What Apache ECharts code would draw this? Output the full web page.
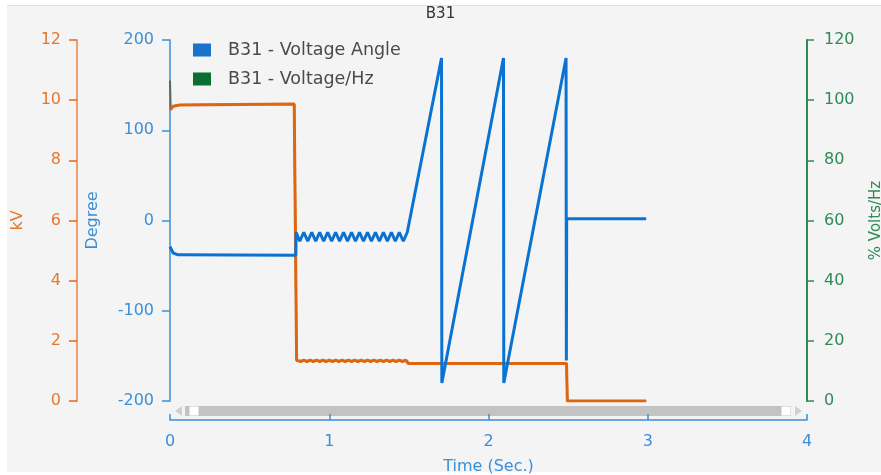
<!DOCTYPE html>
<html>
<head>
<meta charset="utf-8">
<script src="https://cdn.jsdelivr.net/npm/echarts@6/dist/echarts.min.js"></script>
<style>
html,body{margin:0;padding:0;background:#ffffff;}
#c{width:881px;height:475px;}
</style>
</head>
<body>
<div id="c"></div>
<script>
// ---- data ----
var chartTitle = 'B31';
var xTicks = [0, 1, 2, 3, 4];
var angleName = 'B31 - Voltage Angle';
var vhzName = 'B31 - Voltage/Hz';
var kvName = 'B31 - Voltage';

// Voltage angle (degrees) vs time (s)
var angleTime = [0, 0.02, 0.05, 0.79, 0.792,
  0.815, 0.84, 0.865, 0.89, 0.915, 0.94, 0.965, 0.99, 1.015, 1.04, 1.065, 1.09, 1.115, 1.14,
  1.165, 1.19, 1.215, 1.24, 1.265, 1.29, 1.315, 1.34, 1.365, 1.39, 1.415, 1.44, 1.465, 1.49,
  1.705, 1.707, 2.094, 2.096, 2.487, 2.489, 2.491, 2.99];
var angleValue = [-29, -36, -38, -38.5, -13,
  -23, -13, -23, -13, -23, -13, -23, -13, -23, -13, -23, -13, -23, -13,
  -23, -13, -23, -13, -23, -13, -23, -13, -23, -13, -23, -13, -23, -13,
  180, -180, 180, -180, 180, -155, 2, 2];

// Bus voltage (kV) vs time (s)
var kvTime = [0, 0.02, 0.06, 0.78, 0.795,
  0.80, 0.82, 0.84, 0.86, 0.88, 0.90, 0.92, 0.94, 0.96, 0.98, 1.00, 1.02, 1.04, 1.06, 1.08,
  1.10, 1.12, 1.14, 1.16, 1.18, 1.20, 1.22, 1.24, 1.26, 1.28, 1.30, 1.32, 1.34, 1.36, 1.38,
  1.40, 1.42, 1.44, 1.46, 1.48, 1.49, 1.495, 2.49, 2.495, 2.99];
var kvValue = [9.67, 9.80, 9.84, 9.87, 1.36,
  1.36, 1.31, 1.36, 1.31, 1.36, 1.31, 1.36, 1.31, 1.36, 1.31, 1.36, 1.31, 1.36, 1.31, 1.36,
  1.31, 1.36, 1.31, 1.36, 1.31, 1.36, 1.31, 1.36, 1.31, 1.36, 1.31, 1.36, 1.31, 1.36, 1.31,
  1.36, 1.31, 1.36, 1.31, 1.36, 1.34, 1.25, 1.25, 0, 0];

// Volts/Hz (%) vs time (s)
var vhzTime = [0, 0.004, 0.02, 0.06, 0.78, 0.795, 1.49, 1.495, 2.49, 2.495, 2.99];
var vhzValue = [106.5, 97, 98, 98.4, 98.7, 13.4, 13.4, 12.5, 12.5, 0, 0];

function pairs(t, v) { return t.map(function (x, i) { return [x, v[i]]; }); }

var cOrange = '#e5782f', cOrangeAxis = '#eea06c', cOrangeLine = '#df6610';
var cBlue = '#3a8fd8', cBlueLine = '#0a72d2', cGreen = '#2f8a57', cGreenIcon = '#0b6e33';
var font = 'DejaVu Sans';

var chart = echarts.init(document.getElementById('c'));
chart.setOption({
  backgroundColor: '#f4f4f4',
  animation: false,
  title: {
    text: chartTitle, left: 'center', top: 7, padding: 0,
    textStyle: { fontFamily: font, fontSize: 15, fontWeight: 'normal', color: '#333' }
  },
  legend: {
    data: [
      { name: angleName, itemStyle: { color: '#1a72cf' } },
      { name: vhzName, itemStyle: { color: cGreenIcon } }
    ],
    orient: 'vertical', left: 193, top: 41, padding: 0,
    icon: 'rect', itemWidth: 18, itemHeight: 13, itemGap: 11,
    textStyle: { fontFamily: font, fontSize: 17.5, color: '#4a4a4a', padding: [0, 0, 0, 12] }
  },
  grid: { left: 170, right: 74, top: 40, bottom: 74, outerBoundsMode: 'none', containLabel: false },
  xAxis: {
    type: 'value', min: 0, max: 4, interval: 1, offset: 19,
    name: 'Time (Sec.)', nameLocation: 'middle', nameGap: 39,
    nameTextStyle: { fontFamily: font, fontSize: 16, color: cBlue },
    axisLine: { show: true, onZero: false, lineStyle: { color: cBlue, width: 1.5 } },
    axisTick: { show: true, inside: true, length: 6, lineStyle: { color: cBlue, width: 1.5 } },
    axisLabel: { fontFamily: font, fontSize: 16, color: cBlue, margin: 14,
      formatter: function (v) { return xTicks.indexOf(v) >= 0 ? String(v) : ''; } },
    splitLine: { show: false }
  },
  yAxis: [
    {
      type: 'value', min: -200, max: 200, interval: 100, position: 'left',
      name: 'Degree', nameLocation: 'middle', nameGap: 69, nameRotate: 90,
      nameTextStyle: { fontFamily: font, fontSize: 16, color: cBlue },
      axisLine: { show: true, lineStyle: { color: cBlue, width: 1.5 } },
      axisTick: { show: true, length: 8, lineStyle: { color: cBlue, width: 1.5 } },
      axisLabel: { fontFamily: font, fontSize: 16, color: cBlue, margin: 16 },
      splitLine: { show: false }
    },
    {
      type: 'value', min: 0, max: 12, interval: 2, position: 'left', offset: 93,
      name: 'kV', nameLocation: 'middle', nameGap: 51, nameRotate: 90,
      nameTextStyle: { fontFamily: font, fontSize: 16, color: cOrange },
      axisLine: { show: true, lineStyle: { color: cOrangeAxis, width: 2 } },
      axisTick: { show: true, length: 8, lineStyle: { color: '#e8651a', width: 1.5 } },
      axisLabel: { fontFamily: font, fontSize: 16, color: cOrange, margin: 16 },
      splitLine: { show: false }
    },
    {
      type: 'value', min: 0, max: 120, interval: 20, position: 'right',
      name: '% Volts/Hz', nameLocation: 'middle', nameGap: 62, nameRotate: 90,
      nameTextStyle: { fontFamily: font, fontSize: 15, color: cGreen },
      axisLine: { show: true, lineStyle: { color: cGreen, width: 2 } },
      axisTick: { show: true, length: 7, lineStyle: { color: cGreen, width: 1.5 } },
      axisLabel: { fontFamily: font, fontSize: 16, color: cGreen, margin: 17 },
      splitLine: { show: false }
    }
  ],
  dataZoom: [{
    type: 'slider', xAxisIndex: 0, filterMode: 'none', start: 0, end: 100,
    left: 192, right: 95, top: 406, height: 10,
    backgroundColor: 'rgba(0,0,0,0)', fillerColor: 'rgba(0,0,0,0)', borderColor: 'rgba(0,0,0,0)',
    showDetail: false, showDataShadow: false, brushSelect: false, moveHandleSize: 0,
    handleIcon: 'path://M0,0 L10,0 L10,10 L0,10 Z', handleSize: 9,
    handleStyle: { color: '#ffffff', borderColor: '#ffffff', borderWidth: 0 },
    emphasis: { handleStyle: { color: '#ffffff', borderColor: '#ffffff' } },
    dataBackground: { lineStyle: { opacity: 0 }, areaStyle: { opacity: 0 } }
  }],
  graphic: [
    { type: 'rect', left: 0, top: 0, shape: { width: 881, height: 5 }, style: { fill: '#ffffff' }, silent: true },
    { type: 'rect', left: 0, top: 5, shape: { width: 881, height: 1 }, style: { fill: '#e2e2e2' }, silent: true },
    { type: 'rect', left: 0, top: 0, shape: { width: 7, height: 475 }, style: { fill: '#ffffff' }, silent: true },
    { type: 'rect', left: 0, top: 472, shape: { width: 881, height: 3 }, style: { fill: '#ffffff' }, silent: true },
    { type: 'rect', left: 185, top: 406, z: -1, shape: { width: 606, height: 10 }, style: { fill: '#c3c3c3' }, silent: true },
    { type: 'polygon', z: -1, shape: { points: [[182, 406], [182, 416], [175, 411]] }, style: { fill: '#d0d0d0' }, silent: true },
    { type: 'polygon', z: -1, shape: { points: [[795, 406], [795, 416], [802, 411]] }, style: { fill: '#d0d0d0' }, silent: true }
  ],
  series: [
    {
      name: vhzName, type: 'line', yAxisIndex: 2, showSymbol: false, symbol: 'none',
      data: pairs(vhzTime, vhzValue),
      lineStyle: { color: '#556b5a', width: 2 }, itemStyle: { color: cGreenIcon }, z: 2
    },
    {
      name: kvName, type: 'line', yAxisIndex: 1, showSymbol: false, symbol: 'none',
      data: pairs(kvTime, kvValue), smooth: false,
      lineStyle: { color: cOrangeLine, width: 3 }, itemStyle: { color: cOrangeLine }, z: 3
    },
    {
      name: angleName, type: 'line', yAxisIndex: 0, showSymbol: false, symbol: 'none',
      data: pairs(angleTime, angleValue),
      lineStyle: { color: cBlueLine, width: 3 }, itemStyle: { color: cBlueLine }, z: 4
    }
  ]
});
</script>
</body>
</html>
